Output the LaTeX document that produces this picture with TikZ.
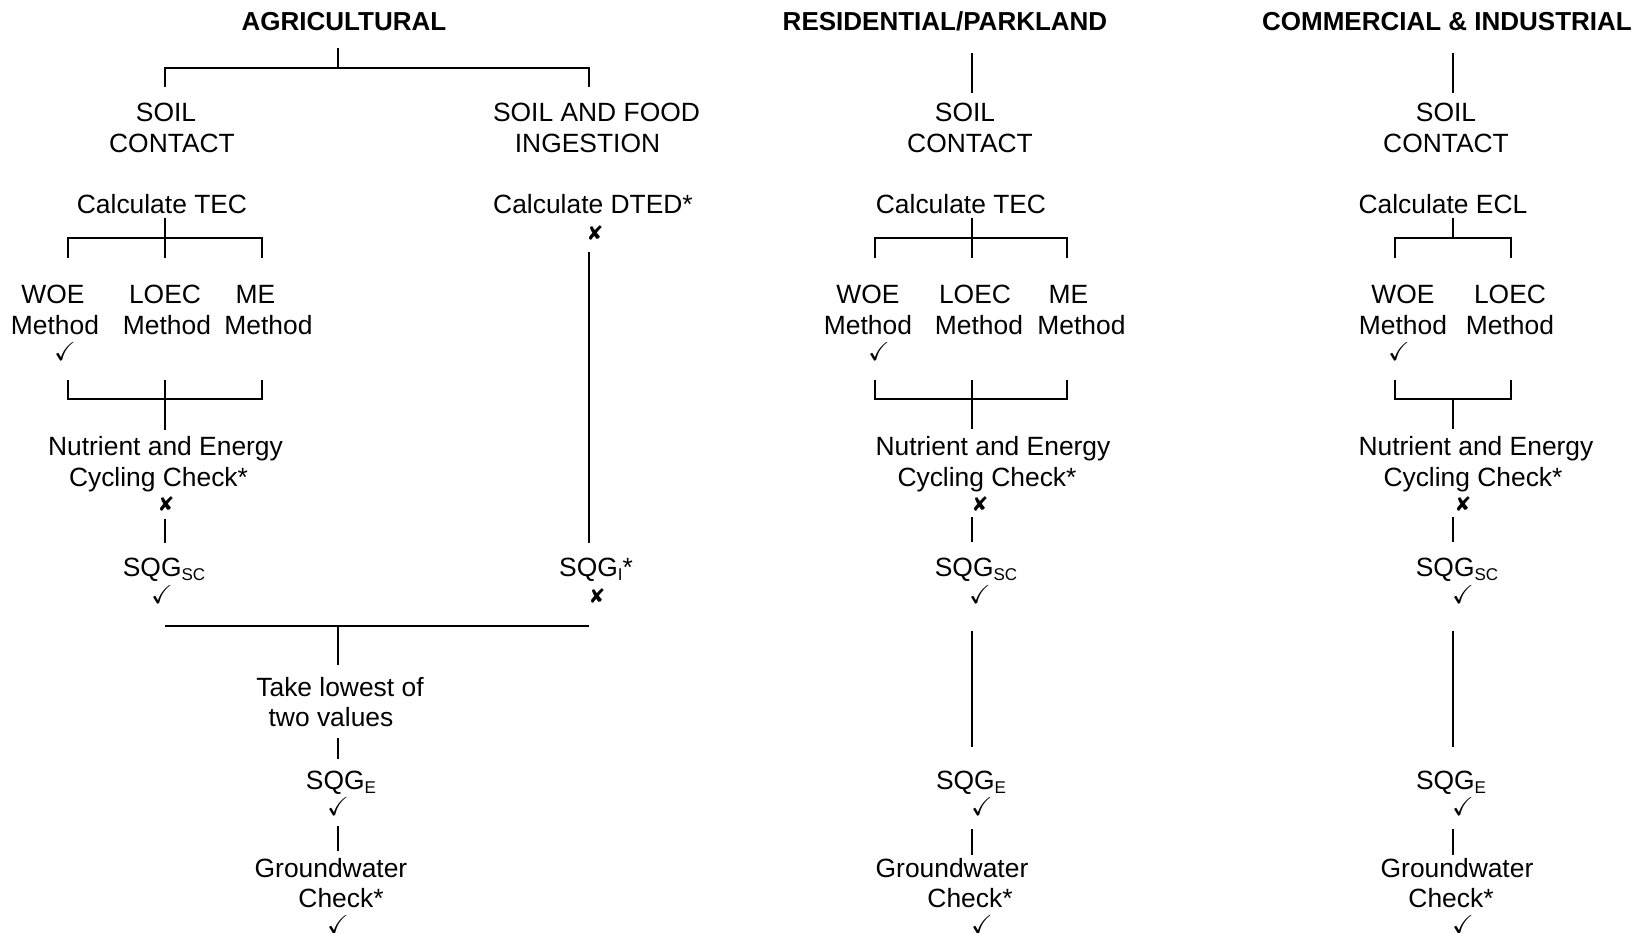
\documentclass[tikz,border=0pt]{standalone}
\usepackage{amssymb}
\usepackage{fontspec}
\setmainfont{Liberation Sans}
\newfontfamily\symfont{DejaVu Sans}
\newcommand{\sqsub}[1]{\raisebox{-3.5pt}{\fontsize{17}{17}\selectfont #1}}
\newcommand{\okglyph}{$\checkmark$}
\tikzset{
  lbl/.style={font=\fontsize{26.4}{30.4}\selectfont, align=center, inner sep=0pt},
  ttl/.style={font=\fontsize{26}{30}\selectfont\bfseries, inner sep=0pt, anchor=base},
  okmark/.style={font=\fontsize{26}{26}\selectfont, inner sep=0pt},
  nomark/.style={font=\symfont\fontsize{20}{20}\selectfont, inner sep=0pt},
  wire/.style={line width=2pt, line cap=butt, line join=miter},
}
\begin{document}
\begin{tikzpicture}[x=1pt,y=-1pt]
\useasboundingbox[fill=white] (0,0) rectangle (1642,933);

% ================= AGRICULTURAL =================
\node[ttl] (titleA) at (344,31) {AGRICULTURAL};
\node[lbl] (soilA) at (169,128) {SOIL\hspace*{6pt}\\\hspace*{6pt}CONTACT};
\node[lbl] (ingA) at (592,128) {\hspace*{9pt}SOIL AND FOOD\\INGESTION\hspace*{9pt}};
\node[lbl] (tecA) at (162,204) {Calculate TEC};
\node[lbl] (dtedA) at (593,204) {Calculate DTED*};
\node[nomark] (dtedX) at (595,233) {✘};
\node[lbl] (woeA) at (55,310) {WOE\hspace*{4pt}\\Method};
\node[lbl] (loecA) at (165,310) {LOEC\\\hspace*{4pt}Method};
\node[lbl] (meA) at (262,310) {ME\hspace*{13pt}\\\hspace*{13pt}Method};
\node[okmark] (woeAok) at (65,352) {\okglyph};
\node[lbl] (nutA) at (162,464) {\hspace*{7pt}Nutrient and Energy\\Cycling Check*\hspace*{7pt}};
\node[nomark] (nutAx) at (166,504) {✘};
\node[lbl, anchor=base] (sqgA) at (164,576.5) {SQG\sqsub{SC}};
\node[okmark] (sqgAok) at (162,594) {\okglyph};
\node[lbl, anchor=base] (sqgiA) at (596,576.5) {SQG\sqsub{I}*};
\node[nomark] (sqgiAx) at (597,596) {✘};
\node[lbl] (lowA) at (335.5,702) {\hspace*{9pt}Take lowest of\\two values\hspace*{9pt}};
\node[lbl, anchor=base] (sqgeA) at (341,789.5) {SQG\sqsub{E}};
\node[okmark] (sqgeAok) at (338,806) {\okglyph};
\node[lbl] (gwA) at (336,883) {Groundwater\hspace*{10pt}\\\hspace*{10pt}Check*};
\node[okmark] (gwAok) at (338,924) {\okglyph};

\coordinate (a1) at (338,48);  \coordinate (a2) at (338,68);
\coordinate (a3) at (165,68);  \coordinate (a4) at (589,68);
\coordinate (a5) at (165,87);  \coordinate (a6) at (589,87);
\draw[wire] (a1) -- (a2);
\draw[wire] (a5) -- (a3) -- (a4) -- (a6);
\coordinate (a7) at (165,218); \coordinate (a8) at (165,258);
\coordinate (a9) at (68,258);  \coordinate (a10) at (68,238);
\coordinate (a11) at (262,238);\coordinate (a12) at (262,258);
\draw[wire] (a7) -- (a8);
\draw[wire] (a9) -- (a10) -- (a11) -- (a12);
\coordinate (a13) at (68,380); \coordinate (a14) at (68,399);
\coordinate (a15) at (262,399);\coordinate (a16) at (262,380);
\coordinate (a17) at (165,380);\coordinate (a18) at (165,430);
\draw[wire] (a13) -- (a14) -- (a15) -- (a16);
\draw[wire] (a17) -- (a18);
\coordinate (a19) at (165,519);\coordinate (a20) at (165,543);
\draw[wire] (a19) -- (a20);
\coordinate (a21) at (589,252);\coordinate (a22) at (589,543);
\draw[wire] (a21) -- (a22);
\coordinate (a23) at (165,626);\coordinate (a24) at (589,626);
\coordinate (a25) at (338,626);\coordinate (a26) at (338,665);
\draw[wire] (a23) -- (a24);
\draw[wire] (a25) -- (a26);
\coordinate (a27) at (338,738);\coordinate (a28) at (338,759);
\draw[wire] (a27) -- (a28);
\coordinate (a29) at (338,826);\coordinate (a30) at (338,851);
\draw[wire] (a29) -- (a30);

% ================= RESIDENTIAL/PARKLAND =================
\node[ttl] (titleR) at (945,31) {RESIDENTIAL/PARKLAND};
\node[lbl] (soilR) at (967.5,128) {SOIL\hspace*{5pt}\\\hspace*{5pt}CONTACT};
\node[lbl] (tecR) at (961,204) {Calculate TEC};
\node[lbl] (woeR) at (868,310) {WOE\\Method};
\node[lbl] (loecR) at (977,310) {LOEC\hspace*{4pt}\\\hspace*{4pt}Method};
\node[lbl] (meR) at (1075,310) {ME\hspace*{13pt}\\\hspace*{13pt}Method};
\node[okmark] (woeRok) at (879,352) {\okglyph};
\node[lbl] (nutR) at (990,464) {\hspace*{6pt}Nutrient and Energy\\Cycling Check*\hspace*{6pt}};
\node[nomark] (nutRx) at (980,504) {✘};
\node[lbl, anchor=base] (sqgR) at (976,576.5) {SQG\sqsub{SC}};
\node[okmark] (sqgRok) at (980,594) {\okglyph};
\node[lbl, anchor=base] (sqgeR) at (971,789.5) {SQG\sqsub{E}};
\node[okmark] (sqgeRok) at (982,806) {\okglyph};
\node[lbl] (gwR) at (961,883) {Groundwater\hspace*{18pt}\\\hspace*{18pt}Check*};
\node[okmark] (gwRok) at (982,924) {\okglyph};

\coordinate (r1) at (972,53);  \coordinate (r2) at (972,93);
\draw[wire] (r1) -- (r2);
\coordinate (r3) at (972,218); \coordinate (r4) at (972,258);
\coordinate (r5) at (875,258); \coordinate (r6) at (875,238);
\coordinate (r7) at (1067,238);\coordinate (r8) at (1067,258);
\draw[wire] (r3) -- (r4);
\draw[wire] (r5) -- (r6) -- (r7) -- (r8);
\coordinate (r9) at (875,380); \coordinate (r10) at (875,399);
\coordinate (r11) at (1067,399);\coordinate (r12) at (1067,380);
\coordinate (r13) at (972,380);\coordinate (r14) at (972,429);
\draw[wire] (r9) -- (r10) -- (r11) -- (r12);
\draw[wire] (r13) -- (r14);
\coordinate (r15) at (972,517);\coordinate (r16) at (972,542);
\draw[wire] (r15) -- (r16);
\coordinate (r17) at (972,631);\coordinate (r18) at (972,747);
\draw[wire] (r17) -- (r18);
\coordinate (r19) at (972,829);\coordinate (r20) at (972,855);
\draw[wire] (r19) -- (r20);

% ================= COMMERCIAL & INDUSTRIAL =================
\node[ttl] (titleC) at (1447,31) {COMMERCIAL \& INDUSTRIAL};
\node[lbl] (soilC) at (1446,128) {SOIL\\CONTACT};
\node[lbl] (eclC) at (1443,204) {Calculate ECL};
\node[lbl] (woeC) at (1403,310) {WOE\\Method};
\node[lbl] (loecC) at (1510,310) {LOEC\\Method};
\node[okmark] (woeCok) at (1399,352) {\okglyph};
\node[lbl] (nutC) at (1474.5,464) {\hspace*{3pt}Nutrient and Energy\\Cycling Check*\hspace*{3pt}};
\node[nomark] (nutCx) at (1463,504) {✘};
\node[lbl, anchor=base] (sqgC) at (1457,576.5) {SQG\sqsub{SC}};
\node[okmark] (sqgCok) at (1463,594) {\okglyph};
\node[lbl, anchor=base] (sqgeC) at (1451,789.5) {SQG\sqsub{E}};
\node[okmark] (sqgeCok) at (1463,806) {\okglyph};
\node[lbl] (gwC) at (1454,883) {\hspace*{6pt}Groundwater\\Check*\hspace*{6pt}};
\node[okmark] (gwCok) at (1463,924) {\okglyph};

\coordinate (c1) at (1453,53);  \coordinate (c2) at (1453,93);
\draw[wire] (c1) -- (c2);
\coordinate (c3) at (1453,218); \coordinate (c4) at (1453,238);
\coordinate (c5) at (1395,258); \coordinate (c6) at (1395,238);
\coordinate (c7) at (1511,238); \coordinate (c8) at (1511,258);
\draw[wire] (c3) -- (c4);
\draw[wire] (c5) -- (c6) -- (c7) -- (c8);
\coordinate (c9) at (1395,380); \coordinate (c10) at (1395,399);
\coordinate (c11) at (1511,399);\coordinate (c12) at (1511,380);
\coordinate (c13) at (1453,399);\coordinate (c14) at (1453,429);
\draw[wire] (c9) -- (c10) -- (c11) -- (c12);
\draw[wire] (c13) -- (c14);
\coordinate (c15) at (1453,517);\coordinate (c16) at (1453,542);
\draw[wire] (c15) -- (c16);
\coordinate (c17) at (1453,631);\coordinate (c18) at (1453,747);
\draw[wire] (c17) -- (c18);
\coordinate (c19) at (1453,829);\coordinate (c20) at (1453,855);
\draw[wire] (c19) -- (c20);
\end{tikzpicture}
\end{document}
